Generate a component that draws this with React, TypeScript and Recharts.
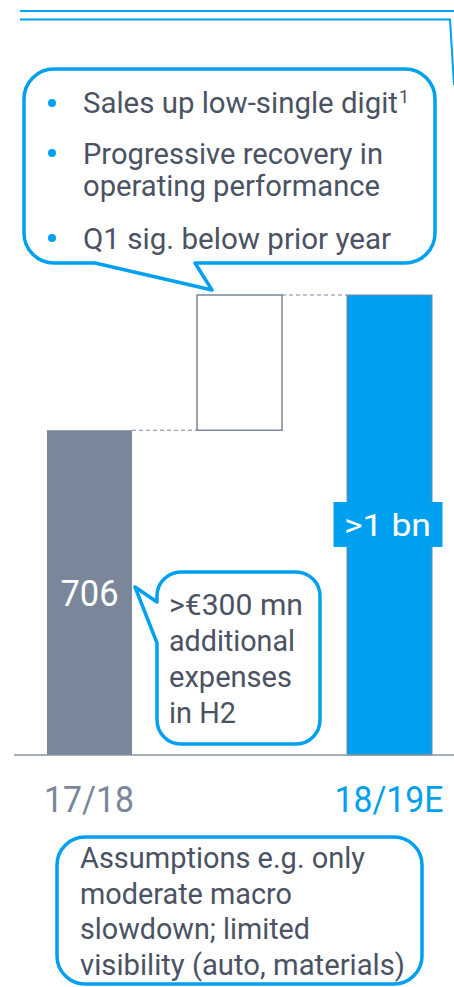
import React from 'react'
import { BarChart, Bar, XAxis, YAxis, LabelList } from 'recharts'

// fiscal years; middle slot is the bridge step
const categories = ['17/18', '', '18/19E']
const baseValues = [0, 706, 0]
const stepValues = [706, 294, 1000]
const valueLabels = ['706', '', '>1 bn']

const topBullets = [
    ['Sales up low-single digit'],
    ['Progressive recovery in', 'operating performance'],
    ['Q1 sig. below prior year']
]
const stepNote = ['>€300 mn', 'additional', 'expenses', 'in H2']
const assumptionNote = [
    'Assumptions e.g. only',
    'moderate macro',
    'slowdown; limited',
    'visibility (auto, materials)'
]

const GRAY = '#7a879b'
const BLUE = '#00a0f0'
const TEXT = '#4a5263'
const FONT = 'Roboto, sans-serif'
const BAND = 150

const data = categories.map((name, i) => ({
    name,
    base: baseValues[i],
    step: stepValues[i],
    label: valueLabels[i]
}))

const topWidths = [[315], [300, 297], [308]]
const stepWidths = [134, 126, 123, 67]
const assumptionWidths = [285, 212, 230, 325]

const renderShape = (props: any) => {
    const { x, y, width, height, index } = props
    if (index === 0) {
        return <rect x={x} y={y} width={width} height={height} fill={GRAY} />
    }
    if (index === 1) {
        const gap = BAND - width
        return (
            <g>
                <line x1={x - gap} x2={x} y1={y + height} y2={y + height}
                    stroke={GRAY} strokeWidth={1} strokeDasharray="4 3" />
                <line x1={x + width} x2={x + width + gap} y1={y} y2={y}
                    stroke={GRAY} strokeWidth={1} strokeDasharray="4 3" />
                <rect x={x} y={y} width={width} height={height}
                    fill="#fff" stroke={GRAY} strokeWidth={1.5} />
            </g>
        )
    }
    return <rect x={x} y={y} width={width} height={height}
        fill={BLUE} stroke={GRAY} strokeWidth={1} />
}

const renderLabel = (props: any) => {
    const { x, y, width, height, value, index } = props
    if (!value) return null
    const cx = x + width / 2
    const cy = y + height / 2
    if (index === 2) {
        return (
            <g>
                <rect x={cx - 56} y={cy - 23} width={109} height={45} fill={BLUE} />
                <text x={cx - 2} y={cy + 11} textAnchor="middle" fill="#fff"
                    fontFamily={FONT} fontSize={32} textLength={87}
                    lengthAdjust="spacingAndGlyphs">{value}</text>
            </g>
        )
    }
    return (
        <text x={cx} y={cy + 13} textAnchor="middle" fill="#fff"
            fontFamily={FONT} fontSize={37} textLength={58}
            lengthAdjust="spacingAndGlyphs">{value}</text>
    )
}

const renderTick = (props: any) => {
    const { x, y, payload, index } = props
    const widths = [90, 0, 109]
    if (!payload.value) return null
    return (
        <text x={x} y={y + 57} textAnchor="middle"
            fill={index === 2 ? BLUE : GRAY} fontFamily={FONT} fontSize={37}
            textLength={widths[index]} lengthAdjust="spacingAndGlyphs">
            {payload.value}
        </text>
    )
}

function Overlay() {
    const topBase = [113, 164, 196, 249]
    const bulletY = [103, 153, 238]
    let line = 0
    return (
        <svg width={454} height={987}
            style={{ position: 'absolute', left: 0, top: 0, pointerEvents: 'none' }}>
            {/* header rules */}
            <line x1={20} x2={454} y1={11} y2={11} stroke={BLUE} strokeWidth={2} />
            <polyline points="20,19.5 450,19.5 454,85" fill="none" stroke={BLUE} strokeWidth={2} />

            {/* top speech bubble */}
            <path
                d="M54 69 H405 A30 30 0 0 1 435 99 V233 A30 30 0 0 1 405 263 H195 L212 290 L95 263 H54 A30 30 0 0 1 24 233 V99 A30 30 0 0 1 54 69 Z"
                fill="#fff" stroke={BLUE} strokeWidth={3.5} strokeLinejoin="round" />
            {topBullets.map((lines, b) => (
                <g key={b}>
                    <circle cx={52} cy={bulletY[b]} r={4} fill={BLUE} />
                    {lines.map((t, j) => {
                        const yy = topBase[line++]
                        return (
                            <text key={j} x={83} y={yy} fill={TEXT} fontFamily={FONT}
                                fontSize={29} textLength={topWidths[b][j]}
                                lengthAdjust="spacingAndGlyphs">{t}</text>
                        )
                    })}
                </g>
            ))}
            <text x={399} y={103} fill={TEXT} fontFamily={FONT} fontSize={18}>1</text>

            {/* step note bubble */}
            <path
                d="M181 572 H296 A24 24 0 0 1 320 596 V720 A24 24 0 0 1 296 744 H181 A24 24 0 0 1 157 720 V643 L135 587 L157 602 V596 A24 24 0 0 1 181 572 Z"
                fill="#fff" stroke={BLUE} strokeWidth={3.5} strokeLinejoin="round" />
            {stepNote.map((t, i) => (
                <text key={i} x={169} y={615 + i * 36} fill={TEXT} fontFamily={FONT}
                    fontSize={29} textLength={stepWidths[i]}
                    lengthAdjust="spacingAndGlyphs">{t}</text>
            ))}

            {/* assumptions bubble */}
            <rect x={57} y={837} width={365} height={147} rx={28} ry={28}
                fill="#fff" stroke={BLUE} strokeWidth={3.5} />
            {assumptionNote.map((t, i) => (
                <text key={i} x={80} y={868 + i * 35.5} fill={TEXT} fontFamily={FONT}
                    fontSize={29} textLength={assumptionWidths[i]}
                    lengthAdjust="spacingAndGlyphs">{t}</text>
            ))}
        </svg>
    )
}

export default function App() {
    return (
        <div style={{ position: 'absolute', left: 0, top: 0, width: 454, height: 987, background: '#fff' }}>
            <BarChart
                width={454}
                height={987}
                data={data}
                barSize={85}
                margin={{ top: 295, right: -10, left: 14, bottom: 172 }}
            >
                <XAxis
                    dataKey="name"
                    height={60}
                    axisLine={{ stroke: '#8a94a6', strokeWidth: 1.5 }}
                    tickLine={false}
                    tickSize={0}
                    tickMargin={0}
                    interval={0}
                    tick={renderTick}
                />
                <YAxis hide domain={[0, 1000]} />
                <Bar dataKey="base" stackId="a" fill="transparent" isAnimationActive={false} />
                <Bar dataKey="step" stackId="a" shape={renderShape} isAnimationActive={false}>
                    <LabelList dataKey="label" content={renderLabel} />
                </Bar>
            </BarChart>
            <Overlay />
        </div>
    )
}
